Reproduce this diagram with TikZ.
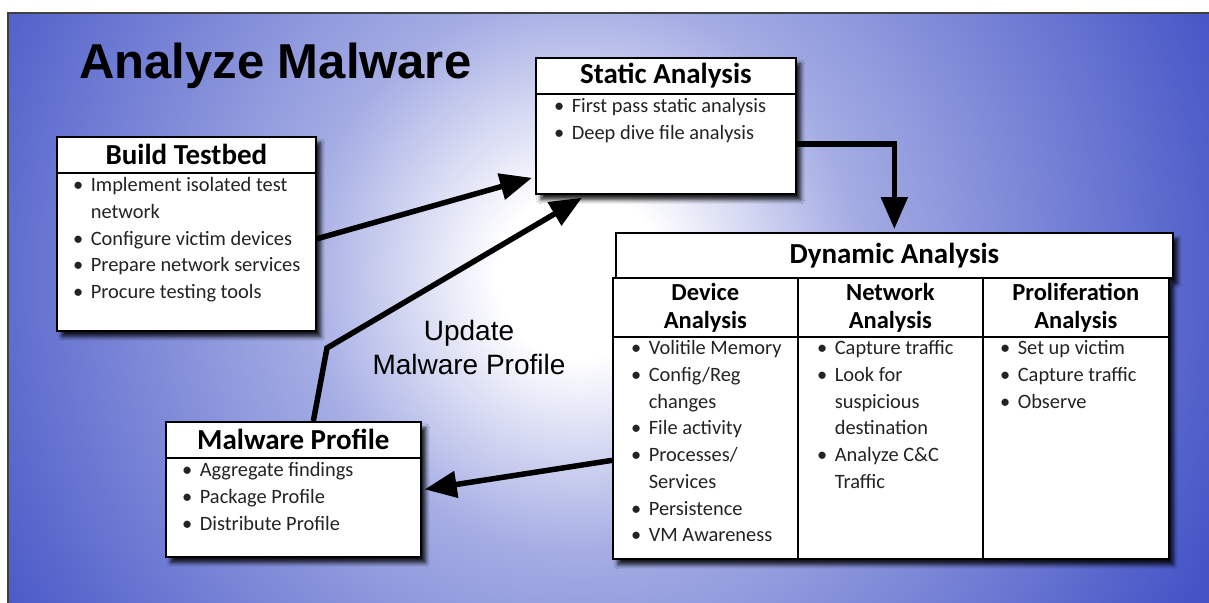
\documentclass[tikz,border=0pt]{standalone}
\usepackage{fontspec}
\setmainfont{Carlito}
\newfontfamily\arialfont{Liberation Sans}
\usetikzlibrary{arrows.meta,shadows.blur}

\definecolor{bgblue}{RGB}{68,84,198}
\definecolor{inkgray}{RGB}{35,35,35}
\colorlet{bgmid}{bgblue!48!white}
\pgfdeclareradialshading{bgglow}{\pgfpoint{0bp}{0bp}}{%
  color(0bp)=(white); color(3bp)=(white); color(10bp)=(bgmid); color(25bp)=(bgblue); color(50bp)=(bgblue)}

% bullet lists with a hanging indent
\newcommand{\bulletlist}[1]{\begin{tabular}{@{}l@{\hspace{7.5pt}}l@{}}#1\end{tabular}}
\newcommand{\ibul}{\textbullet}

\tikzset{
  softshadow/.style={blur shadow={shadow xshift=5pt, shadow yshift=-6pt, shadow blur radius=4pt,
    shadow opacity=85}},
  box/.style={draw=black, line width=1.7pt, fill=white, inner sep=0pt, anchor=north west, softshadow},
  hdr/.style={draw=black, line width=1.7pt, fill=white, inner sep=0pt, anchor=north west,
    font=\bfseries\fontsize{29}{31}\selectfont},
  colhdr/.style={draw=black, line width=1.7pt, fill=white, inner sep=0pt, anchor=north west,
    align=center, font=\bfseries\fontsize{24.5}{28}\selectfont},
  colbody/.style={draw=black, line width=1.7pt, fill=white, inner sep=0pt, anchor=north west},
  items/.style={anchor=north west, inner sep=0pt, font=\fontsize{20.4}{26.7}\selectfont, text=inkgray},
  flow/.style={line width=5.5pt, -{Triangle[length=32pt,width=26pt]}},
}

\begin{document}
\begin{tikzpicture}[x=1pt,y=-1pt]
\useasboundingbox (0,0) rectangle (1209,602);
\fill[white] (0,0) rectangle (1209,602);

% slide background: radial glow over blue
\begin{scope}
  \clip (8,13) rectangle (1220,615);
  \fill[bgblue] (8,13) rectangle (1220,615);
  \shade[shading=bgglow] (580,275) circle (690pt);
\end{scope}
\draw[line width=2pt, black!75] (8,615) -- (8,13) -- (1220,13);

% title
\node[anchor=base west, inner sep=0pt, font=\arialfont\bfseries\fontsize{49}{55}\selectfont]
  (title) at (79,78) {Analyze Malware};

% Static Analysis
\node[box, minimum width=260pt, minimum height=136pt] (st) at (535,57) {};
\node[hdr, minimum width=260pt, minimum height=36pt] (sth) at (st.north west) {Static Analysis};
\node[items] (stl) at (554,94) {\bulletlist{%
  \ibul & First pass static analysis\\
  \ibul & Deep dive file analysis}};

% Build Testbed
\node[box, minimum width=259pt, minimum height=194pt] (bt) at (56,136) {};
\node[hdr, minimum width=259pt, minimum height=36pt] (bth) at (bt.north west) {Build Testbed};
\node[items] (btl) at (73,173) {\bulletlist{%
  \ibul & Implement isolated test\\
        & network\\
  \ibul & Configure victim devices\\
  \ibul & Prepare network services\\
  \ibul & Procure testing tools}};

% Malware Profile
\node[box, minimum width=255pt, minimum height=135pt] (mp) at (165,421) {};
\node[hdr, minimum width=255pt, minimum height=36pt] (mph) at (mp.north west) {Malware Profile};
\node[items] (mpl) at (182,458) {\bulletlist{%
  \ibul & Aggregate findings\\
  \ibul & Package Profile\\
  \ibul & Distribute Profile}};

% Dynamic Analysis
\node[hdr, minimum width=557pt, minimum height=45pt, softshadow]
  (dt) at (615,232) {Dynamic Analysis};
\node[box, minimum width=556pt, minimum height=281pt] (dtab) at (612,277) {};

\node[colhdr, minimum width=185pt, minimum height=59pt] (c1h) at (612,277) {Device\\Analysis};
\node[colhdr, minimum width=185pt, minimum height=59pt] (c2h) at (797,277) {Network\\Analysis};
\node[colhdr, minimum width=186pt, minimum height=59pt] (c3h) at (982,277) {Proliferation\\Analysis};
\node[colbody, minimum width=185pt, minimum height=222pt] (c1b) at (612,336) {};
\node[colbody, minimum width=185pt, minimum height=222pt] (c2b) at (797,336) {};
\node[colbody, minimum width=186pt, minimum height=222pt] (c3b) at (982,336) {};

\node[items] (c1l) at (631,336) {\bulletlist{%
  \ibul & Volitile Memory\\
  \ibul & Config/Reg\\
        & changes\\
  \ibul & File activity\\
  \ibul & Processes/\\
        & Services\\
  \ibul & Persistence\\
  \ibul & VM Awareness}};
\node[items] (c2l) at (817,336) {\bulletlist{%
  \ibul & Capture traffic\\
  \ibul & Look for\\
        & suspicious\\
        & destination\\
  \ibul & Analyze C\&C\\
        & Traffic}};
\node[items] (c3l) at (1000,336) {\bulletlist{%
  \ibul & Set up victim\\
  \ibul & Capture traffic\\
  \ibul & Observe}};

% loop label
\node[align=center, inner sep=0pt, font=\arialfont\fontsize{28}{34}\selectfont]
  (upd) at (469,347) {Update\\Malware Profile};

% flow arrows
\coordinate (bend) at (327,348);
\draw[flow] ([yshift=-5pt]bt.east) -- ([xshift=-3pt,yshift=-52pt]st.west);
\draw[flow] ([xshift=20pt]mp.north) -- (bend) -- ([xshift=47pt,yshift=-3pt]st.south west);
\draw[flow] ([yshift=-18pt]st.east) -| ([yshift=3pt]dt.north);
\draw[flow] ([yshift=-42pt]dtab.west) -- ([xshift=3pt]mp.east);
\end{tikzpicture}
\end{document}
